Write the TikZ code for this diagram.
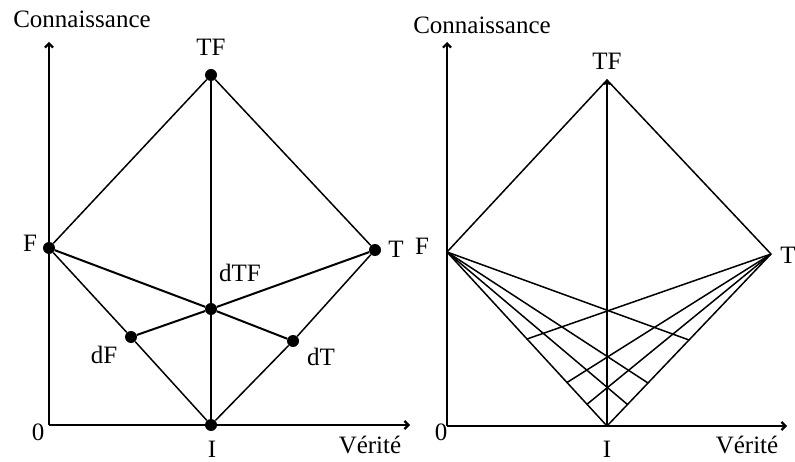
\documentclass[tikz,border=0pt]{standalone}
\usepackage{fontspec}
\setmainfont{Liberation Serif}
\usepackage{tikz}
\usetikzlibrary{arrows.meta,positioning,calc}

\begin{document}
\begin{tikzpicture}[x=1pt,y=-1pt,font=\fontsize{25}{27}\selectfont,
  axis/.style={-{Straight Barb[length=4pt,width=8pt]},line width=2.2pt},
  edge/.style={line width=1.5pt},
  bold/.style={line width=2pt},
  pt/.style={circle,fill,inner sep=0pt,minimum size=12pt},
  lbl/.style={inner sep=1pt}]
\useasboundingbox (0,0) rectangle (795,462);
% left diagram
\coordinate (lO) at (49,425);
\coordinate (lY) at (49,42);
\coordinate (lX) at (410,425);
\draw[axis] (lO) -- (lY);
\draw[axis] (lO) -- (lX);
\node[pt] (lTF) at (211,75) {};
\node[pt] (lF) at (49,248) {};
\node[pt] (lT) at (375,250) {};
\node[pt] (dTF) at (211,309) {};
\node[pt] (dF) at (131,337) {};
\node[pt] (dT) at (293,341) {};
\node[pt] (lI) at (211,425) {};
\draw[edge] (lF) -- (lTF) -- (lT);
\draw[edge] (lF) -- (dF) -- (lI) -- (dT) -- (lT);
\draw[bold] (lTF) -- (lI);
\draw[bold] (lF) -- (dTF) -- (dT);
\draw[bold] (lT) -- (dTF) -- (dF);
\node[lbl] (lyLbl) at (82,19) {Connaissance};
\node[lbl] (lTFLbl) at (211,47) {TF};
\node[lbl] (lFLbl) at (30,243) {F};
\node[lbl] (lTLbl) at (396,249) {T};
\node[lbl] (dTFLbl) at (240,273) {dTF};
\node[lbl] (dFLbl) at (104,355) {dF};
\node[lbl] (dTLbl) at (321,357) {dT};
\node[lbl] (lILbl) at (212,449) {I};
\node[lbl] (lOLbl) at (38,432) {0};
\node[lbl] (lxLbl) at (370,445) {Vérité};
% right diagram
\coordinate (rO) at (447,426);
\coordinate (rY) at (447,42);
\coordinate (rX) at (787,426);
\draw[axis] (rO) -- (rY);
\draw[axis] (rO) -- (rX);
\coordinate (rTF) at (607,80);
\coordinate (rF) at (447,252);
\coordinate (rT) at (771,254);
\coordinate (rI) at (607,426);
\draw[edge] (rF) -- (rTF) -- (rT);
\draw[edge] (rF) -- (rI) -- (rT);
\draw[axis,line width=2pt,-{Straight Barb[length=3pt,width=6pt]}] (rI) -- (rTF);
\foreach \f/\n in {0.5/a,0.75/b,0.875/c}{
  \coordinate (tI\n) at ($(rT)!\f!(rI)$);
  \coordinate (fI\n) at ($(rF)!\f!(rI)$);
  \draw[edge] (rF) -- (tI\n);
  \draw[edge] (rT) -- (fI\n);
}
\node[lbl] (ryLbl) at (482,25) {Connaissance};
\node[lbl] (rTFLbl) at (607,61) {TF};
\node[lbl] (rFLbl) at (422,246) {F};
\node[lbl] (rTLbl) at (788,255) {T};
\node[lbl] (rILbl) at (607,449) {I};
\node[lbl] (rOLbl) at (441,432) {0};
\node[lbl] (rxLbl) at (747,445) {Vérité};
\end{tikzpicture}
\end{document}
